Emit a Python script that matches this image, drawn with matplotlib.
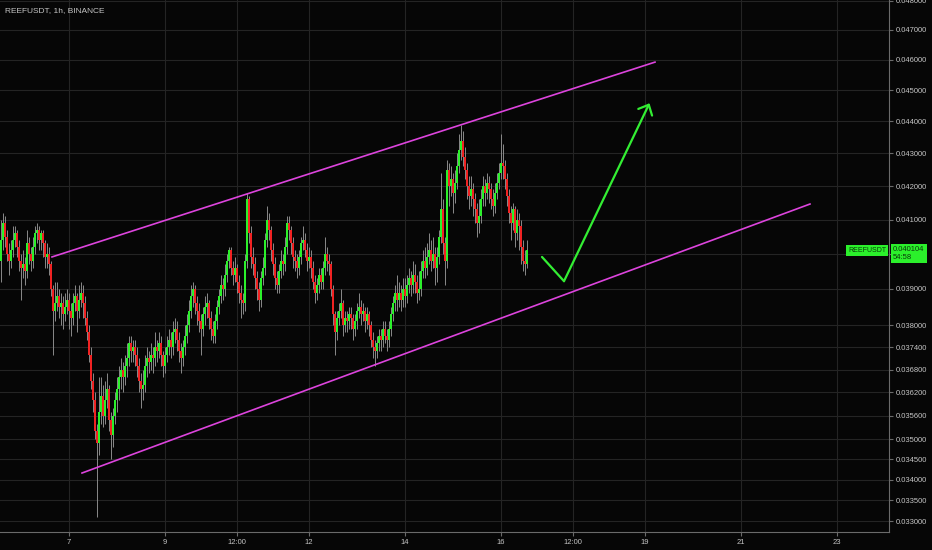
import numpy as np
import matplotlib
matplotlib.use('Agg')
import matplotlib.pyplot as plt
import matplotlib.transforms as mtransforms
from matplotlib.ticker import FixedLocator, FixedFormatter, NullLocator

plt.rcParams['font.family'] = ['Liberation Sans', 'DejaVu Sans']

symbol_title = 'REEFUSDT, 1h, BINANCE'
symbol = 'REEFUSDT'
countdown = '54:58'
last_price = 0.040104

# hourly candles, first one opens day 5 14:00
start_day = 5
start_hour = 14
first_open = 0.0398
closes = [
    0.0404, 0.0409, 0.0405, 0.0400, 0.0398, 0.0401, 0.0404, 0.0406, 0.0402, 0.0398, 0.0396, 0.0397,
    0.0395, 0.0403, 0.0400, 0.0398, 0.0402, 0.0406, 0.0407, 0.0404, 0.0406, 0.0403, 0.0399, 0.0400,
    0.0397, 0.0390, 0.0384, 0.0386, 0.0388, 0.0385, 0.0386, 0.0383, 0.0385, 0.0387, 0.0384, 0.0382,
    0.0386, 0.0388, 0.0384, 0.0387, 0.0389, 0.0386, 0.0382, 0.0378, 0.0372, 0.0365, 0.0360, 0.0352,
    0.0349, 0.0357, 0.0361, 0.0356, 0.0360, 0.0363, 0.0355, 0.0351, 0.0356, 0.0360, 0.0363, 0.0366,
    0.0368, 0.0366, 0.0369, 0.0371, 0.0375, 0.0373, 0.0374, 0.0372, 0.0369, 0.0365, 0.0363, 0.0364,
    0.0369, 0.0371, 0.0370, 0.0372, 0.0371, 0.0374, 0.0373, 0.0375, 0.0372, 0.0369, 0.0372, 0.0374,
    0.0376, 0.0374, 0.0378, 0.0379, 0.0376, 0.0373, 0.0371, 0.0374, 0.0377, 0.0380, 0.0384, 0.0388,
    0.0390, 0.0386, 0.0384, 0.0381, 0.0379, 0.0383, 0.0385, 0.0386, 0.0382, 0.0379, 0.0377, 0.0381,
    0.0385, 0.0388, 0.0391, 0.0390, 0.0394, 0.0398, 0.0401, 0.0396, 0.0394, 0.0396, 0.0392, 0.0389,
    0.0387, 0.0386, 0.0398, 0.0416, 0.0406, 0.0399, 0.0397, 0.0393, 0.0390, 0.0387, 0.0393, 0.0396,
    0.0404, 0.0410, 0.0407, 0.0401, 0.0397, 0.0393, 0.0391, 0.0395, 0.0398, 0.0397, 0.0402, 0.0409,
    0.0407, 0.0403, 0.0399, 0.0398, 0.0396, 0.0399, 0.0403, 0.0404, 0.0401, 0.0398, 0.0399, 0.0396,
    0.0392, 0.0389, 0.0391, 0.0394, 0.0392, 0.0396, 0.0400, 0.0398, 0.0397, 0.0390, 0.0383, 0.0378,
    0.0382, 0.0384, 0.0386, 0.0380, 0.0382, 0.0381, 0.0383, 0.0382, 0.0379, 0.0381, 0.0384, 0.0385,
    0.0383, 0.0384, 0.0381, 0.0383, 0.0380, 0.0376, 0.0374, 0.0373, 0.0375, 0.0377, 0.0376, 0.0379,
    0.0377, 0.0376, 0.0379, 0.0383, 0.0386, 0.0389, 0.0387, 0.0389, 0.0387, 0.0390, 0.0388, 0.0391,
    0.0393, 0.0391, 0.0394, 0.0392, 0.0389, 0.0390, 0.0395, 0.0398, 0.0396, 0.0399, 0.0401, 0.0398,
    0.0400, 0.0396, 0.0399, 0.0405, 0.0413, 0.0403, 0.0398, 0.0425, 0.0420, 0.0422, 0.0418, 0.0421,
    0.0426, 0.0431, 0.0434, 0.0429, 0.0425, 0.0420, 0.0417, 0.0419, 0.0416, 0.0413, 0.0409, 0.0411,
    0.0416, 0.0420, 0.0418, 0.0421, 0.0419, 0.0416, 0.0414, 0.0418, 0.0421, 0.0424, 0.0427, 0.0426,
    0.0422, 0.0417, 0.0412, 0.0409, 0.0413, 0.0406, 0.0410, 0.0408, 0.0402, 0.0398, 0.0397, 0.040104,
]
highs = [
    0.0410, 0.0412, 0.0411, 0.0407, 0.0403, 0.0404, 0.0408, 0.0408, 0.0407, 0.0404, 0.0400, 0.0401,
    0.0399, 0.0407, 0.0405, 0.0402, 0.0405, 0.0408, 0.0409, 0.0408, 0.0407, 0.0407, 0.0404, 0.0403,
    0.0402, 0.0398, 0.0391, 0.0392, 0.0392, 0.0390, 0.0389, 0.0388, 0.0389, 0.0390, 0.0389, 0.0386,
    0.0389, 0.0391, 0.0389, 0.0391, 0.0392, 0.0391, 0.0388, 0.0384, 0.0380, 0.0374, 0.0367, 0.0362,
    0.0354, 0.0366, 0.0366, 0.0364, 0.0365, 0.0367, 0.0364, 0.0357, 0.0358, 0.0362, 0.0366, 0.0369,
    0.0371, 0.0370, 0.0372, 0.0375, 0.0377, 0.0377, 0.0376, 0.0376, 0.0374, 0.0371, 0.0367, 0.0368,
    0.0372, 0.0374, 0.0373, 0.0375, 0.0374, 0.0378, 0.0376, 0.0378, 0.0377, 0.0373, 0.0374, 0.0377,
    0.0379, 0.0378, 0.0381, 0.0382, 0.0381, 0.0378, 0.0375, 0.0376, 0.0380, 0.0383, 0.0387, 0.0391,
    0.0392, 0.0391, 0.0388, 0.0386, 0.0383, 0.0385, 0.0388, 0.0389, 0.0387, 0.0384, 0.0381, 0.0383,
    0.0387, 0.0390, 0.0394, 0.0393, 0.0397, 0.0400, 0.0402, 0.0402, 0.0398, 0.0399, 0.0397, 0.0394,
    0.0391, 0.0389, 0.0400, 0.0418, 0.0417, 0.0408, 0.0402, 0.0399, 0.0395, 0.0392, 0.0395, 0.0399,
    0.0406, 0.0414, 0.0412, 0.0408, 0.0403, 0.0399, 0.0395, 0.0397, 0.0401, 0.0400, 0.0405, 0.0411,
    0.0411, 0.0408, 0.0405, 0.0401, 0.0400, 0.0401, 0.0405, 0.0408, 0.0406, 0.0403, 0.0402, 0.0401,
    0.0398, 0.0394, 0.0393, 0.0396, 0.0396, 0.0398, 0.0405, 0.0402, 0.0400, 0.0398, 0.0391, 0.0384,
    0.0384, 0.0386, 0.0390, 0.0387, 0.0384, 0.0384, 0.0385, 0.0385, 0.0383, 0.0383, 0.0386, 0.0389,
    0.0387, 0.0386, 0.0385, 0.0385, 0.0384, 0.0381, 0.0378, 0.0376, 0.0377, 0.0379, 0.0379, 0.0381,
    0.0381, 0.0379, 0.0381, 0.0385, 0.0388, 0.0391, 0.0394, 0.0392, 0.0391, 0.0393, 0.0393, 0.0394,
    0.0396, 0.0395, 0.0398, 0.0397, 0.0394, 0.0395, 0.0398, 0.0401, 0.0402, 0.0403, 0.0406, 0.0404,
    0.0405, 0.0402, 0.0402, 0.0407, 0.0424, 0.0416, 0.0405, 0.0428, 0.0427, 0.0426, 0.0424, 0.0425,
    0.0430, 0.0436, 0.0439, 0.0437, 0.0432, 0.0427, 0.0423, 0.0423, 0.0421, 0.0418, 0.0415, 0.0416,
    0.0419, 0.0423, 0.0422, 0.0424, 0.0423, 0.0421, 0.0419, 0.0421, 0.0424, 0.0427, 0.0436, 0.0433,
    0.0428, 0.0424, 0.0419, 0.0414, 0.0415, 0.0414, 0.0413, 0.0412, 0.0410, 0.0404, 0.0401, 0.0404,
]
lows = [
    0.0392, 0.0401, 0.0402, 0.0398, 0.0394, 0.0396, 0.0399, 0.0402, 0.0399, 0.0395, 0.0387, 0.0393,
    0.0391, 0.0393, 0.0397, 0.0395, 0.0396, 0.0400, 0.0403, 0.0401, 0.0401, 0.0399, 0.0396, 0.0396,
    0.0394, 0.0388, 0.0372, 0.0381, 0.0384, 0.0382, 0.0380, 0.0379, 0.0381, 0.0383, 0.0379, 0.0377,
    0.0380, 0.0384, 0.0378, 0.0382, 0.0385, 0.0382, 0.0380, 0.0376, 0.0370, 0.0363, 0.0357, 0.0350,
    0.0331, 0.0346, 0.0354, 0.0353, 0.0354, 0.0358, 0.0352, 0.0345, 0.0348, 0.0354, 0.0357, 0.0360,
    0.0363, 0.0362, 0.0364, 0.0366, 0.0369, 0.0370, 0.0370, 0.0369, 0.0366, 0.0362, 0.0358, 0.0360,
    0.0362, 0.0366, 0.0367, 0.0368, 0.0367, 0.0369, 0.0370, 0.0371, 0.0369, 0.0366, 0.0367, 0.0370,
    0.0372, 0.0371, 0.0372, 0.0375, 0.0373, 0.0370, 0.0367, 0.0369, 0.0372, 0.0375, 0.0378, 0.0382,
    0.0385, 0.0383, 0.0380, 0.0378, 0.0372, 0.0377, 0.0380, 0.0382, 0.0379, 0.0376, 0.0375, 0.0375,
    0.0379, 0.0383, 0.0386, 0.0387, 0.0388, 0.0392, 0.0396, 0.0394, 0.0391, 0.0392, 0.0389, 0.0386,
    0.0382, 0.0383, 0.0384, 0.0396, 0.0403, 0.0396, 0.0394, 0.0390, 0.0387, 0.0384, 0.0385, 0.0391,
    0.0394, 0.0402, 0.0404, 0.0398, 0.0394, 0.0390, 0.0389, 0.0389, 0.0393, 0.0394, 0.0395, 0.0400,
    0.0404, 0.0400, 0.0396, 0.0395, 0.0393, 0.0394, 0.0397, 0.0401, 0.0399, 0.0395, 0.0396, 0.0393,
    0.0390, 0.0386, 0.0387, 0.0389, 0.0390, 0.0390, 0.0394, 0.0395, 0.0394, 0.0388, 0.0380, 0.0372,
    0.0376, 0.0380, 0.0382, 0.0377, 0.0378, 0.0378, 0.0379, 0.0379, 0.0376, 0.0377, 0.0379, 0.0382,
    0.0380, 0.0381, 0.0378, 0.0379, 0.0377, 0.0374, 0.0371, 0.0369, 0.0371, 0.0373, 0.0373, 0.0374,
    0.0375, 0.0373, 0.0374, 0.0377, 0.0381, 0.0384, 0.0384, 0.0385, 0.0384, 0.0385, 0.0385, 0.0386,
    0.0389, 0.0388, 0.0389, 0.0389, 0.0386, 0.0387, 0.0388, 0.0393, 0.0393, 0.0394, 0.0397, 0.0395,
    0.0396, 0.0391, 0.0392, 0.0397, 0.0403, 0.0400, 0.0391, 0.0396, 0.0414, 0.0417, 0.0412, 0.0415,
    0.0419, 0.0424, 0.0428, 0.0426, 0.0422, 0.0416, 0.0413, 0.0414, 0.0411, 0.0409, 0.0405, 0.0406,
    0.0409, 0.0414, 0.0414, 0.0416, 0.0415, 0.0413, 0.0411, 0.0412, 0.0416, 0.0419, 0.0422, 0.0422,
    0.0419, 0.0414, 0.0409, 0.0404, 0.0407, 0.0402, 0.0404, 0.0401, 0.0397, 0.0395, 0.0394, 0.0396,
]

tick_days = [7, 9, 10.5, 12, 14, 16, 17.5, 19, 21, 23]
tick_labels = ['7', '9', '12:00', '12', '14', '16', '12:00', '19', '21', '23']
price_ticks = [0.033, 0.0335, 0.034, 0.0345, 0.035, 0.0356, 0.0362, 0.0368, 0.0374,
               0.038, 0.039, 0.040, 0.041, 0.042, 0.043, 0.044, 0.045, 0.046, 0.047, 0.048]
hidden_tick = 0.040  # its label sits under the last-price box

# drawings: (hour index, price)
upper_line_t = [25.5, 327]
upper_line_p = [0.03991, 0.04592]
lower_line_t = [40.5, 404.5]
lower_line_p = [0.03416, 0.04146]
arrow_t = [270.5, 281.5, 324.25]
arrow_p = [0.03991, 0.03922, 0.04458]

bg = '#060606'
up_col = '#2bf02b'
down_col = '#f02222'
wick_col = '#8a8a8a'
grid_col = '#242424'
axis_col = '#6a6a6a'
text_col = '#c4c4c4'
magenta = '#dd44dd'
arrow_col = '#33ee33'

t = np.arange(len(closes))
c = np.array(closes)
o = np.concatenate([[first_open], c[:-1]])
colors = np.where(c >= o, up_col, down_col)

fig = plt.figure(figsize=(9.32, 5.5), dpi=100, facecolor=bg)
ax = fig.add_axes([0, 18 / 550, 889 / 932, 532 / 550], facecolor=bg)
ax.set_yscale('log')

ax.vlines(t, lows, highs, color=wick_col, lw=0.7, zorder=2)
ax.bar(t, np.abs(c - o), bottom=np.minimum(o, c), width=1.0, color=colors, lw=0, zorder=3)

ax.plot(upper_line_t, upper_line_p, color=magenta, lw=1.2, zorder=4)
ax.plot(lower_line_t, lower_line_p, color=magenta, lw=1.2, zorder=4)
ax.plot(arrow_t[:2], arrow_p[:2], color=arrow_col, lw=1.6, zorder=4, solid_capstyle='round')
ax.annotate('', xy=(arrow_t[2], arrow_p[2]), xytext=(arrow_t[1], arrow_p[1]),
            arrowprops=dict(arrowstyle='->,head_length=0.6,head_width=0.55', color=arrow_col,
                            lw=1.6, shrinkA=0, shrinkB=0, mutation_scale=10), zorder=4)

ax.set_xlim(-0.5, 444)
ax.set_ylim(0.03274, 0.04802)

tick_pos = [(d - start_day) * 24 - start_hour for d in tick_days]
ax.xaxis.set_major_locator(FixedLocator(tick_pos))
ax.xaxis.set_major_formatter(FixedFormatter(tick_labels))
ax.yaxis.tick_right()
ax.yaxis.set_major_locator(FixedLocator(price_ticks))
ax.yaxis.set_major_formatter(FixedFormatter(['' if p == hidden_tick else '%.6f' % p for p in price_ticks]))
ax.yaxis.set_minor_locator(NullLocator())
ax.tick_params(axis='both', colors=axis_col, labelcolor=text_col, labelsize=5.5, length=3, width=0.8, pad=2)
ax.grid(True, color=grid_col, lw=0.8)
ax.set_axisbelow(True)

for side in ['left', 'top']:
    ax.spines[side].set_visible(False)
for side in ['right', 'bottom']:
    ax.spines[side].set_color(axis_col)
    ax.spines[side].set_linewidth(0.8)

trans = mtransforms.blended_transform_factory(ax.transAxes, ax.transData)
ax.text(0.997, last_price, symbol, transform=trans, ha='right', va='center', fontsize=5,
        color='#0a3a0a', zorder=6,
        bbox=dict(boxstyle='square,pad=0.3', fc=up_col, ec='none'))
ax.annotate('%.6f\n%s' % (last_price, countdown), xy=(1, last_price), xycoords=trans,
            xytext=(3, 3), textcoords='offset points', ha='left', va='top', fontsize=5.5,
            color='#0a3a0a', linespacing=1.15, annotation_clip=False, zorder=6,
            bbox=dict(boxstyle='square,pad=0.3', fc=up_col, ec='none'))

fig.text(5 / 932, 1 - 11 / 550, symbol_title, color=text_col, fontsize=6, va='center', ha='left')

fig.savefig('out.png', dpi=100, facecolor=bg)
